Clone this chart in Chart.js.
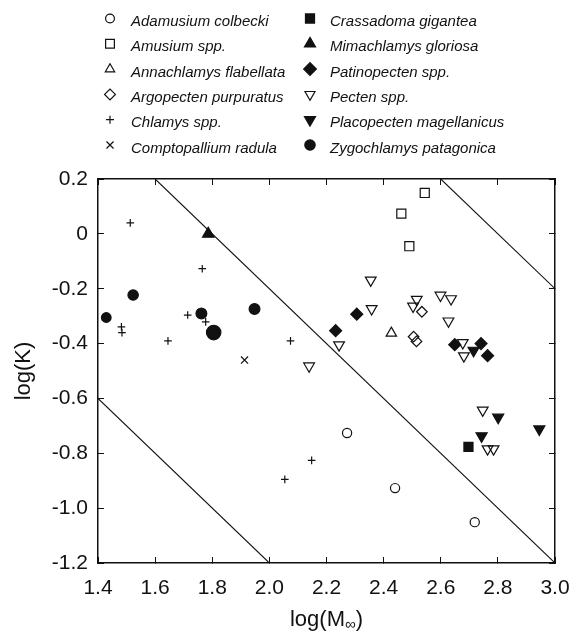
<!DOCTYPE html>
<html><head><meta charset="utf-8">
<script src="https://cdn.jsdelivr.net/npm/chart.js@4/dist/chart.umd.min.js"></script>
<style>html,body{margin:0;padding:0;background:#fff;}canvas{display:block;}</style>
</head><body>
<canvas id="c" width="575" height="636"></canvas>
<script>
// ---- data ----
const species = [
  'Adamusium colbecki', 'Amusium spp.', 'Annachlamys flabellata', 'Argopecten purpuratus',
  'Chlamys spp.', 'Comptopallium radula', 'Crassadoma gigantea', 'Mimachlamys gloriosa',
  'Patinopecten spp.', 'Pecten spp.', 'Placopecten magellanicus', 'Zygochlamys patagonica'
];
const adamusiumX = [2.272, 2.440, 2.719];
const adamusiumY = [-0.726, -0.927, -1.051];
const amusiumX = [2.462, 2.490, 2.544];
const amusiumY = [0.074, -0.045, 0.149];
const annachlamysX = [2.427];
const annachlamysY = [-0.362];
const argopectenX = [2.534, 2.505, 2.515];
const argopectenY = [-0.284, -0.375, -0.392];
const chlamysX = [1.513, 1.765, 1.482, 1.484, 1.645, 1.714, 1.777, 2.074, 2.148, 2.054];
const chlamysY = [0.040, -0.127, -0.339, -0.360, -0.390, -0.296, -0.321, -0.390, -0.826, -0.895];
const comptopalliumX = [1.913];
const comptopalliumY = [-0.460];
const crassadomaX = [2.697];
const crassadomaY = [-0.777];
const mimachlamysX = [1.786];
const mimachlamysY = [0.000];
const patinopectenX = [2.232, 2.306, 2.649, 2.741, 2.764];
const patinopectenY = [-0.353, -0.293, -0.404, -0.400, -0.444];
const pectenX = [2.139, 2.244, 2.355, 2.358, 2.516, 2.503, 2.599, 2.636, 2.627, 2.677, 2.681, 2.747, 2.764, 2.785];
const pectenY = [-0.482, -0.405, -0.169, -0.273, -0.239, -0.264, -0.224, -0.237, -0.318, -0.397, -0.445, -0.643, -0.784, -0.784];
const placopectenX = [2.715, 2.743, 2.801, 2.945];
const placopectenY = [-0.425, -0.737, -0.669, -0.712];
const zygochlamysX = [1.429, 1.523, 1.762, 1.805, 1.948];
const zygochlamysY = [-0.305, -0.223, -0.290, -0.360, -0.274];

const refLineX = [[1.4, 2.0], [1.6, 3.0], [2.6, 3.0]];
const refLineY = [[-0.6, -1.2], [0.2, -1.2], [0.2, -0.2]];

const xTickValues = [1.4, 1.6, 1.8, 2.0, 2.2, 2.4, 2.6, 2.8, 3.0];
const xTickLabels = ['1.4', '1.6', '1.8', '2.0', '2.2', '2.4', '2.6', '2.8', '3.0'];
const yTickValues = [-1.2, -1.0, -0.8, -0.6, -0.4, -0.2, 0, 0.2];
const yTickLabels = ['-1.2', '-1.0', '-0.8', '-0.6', '-0.4', '-0.2', '0', '0.2'];

const seriesX = [adamusiumX, amusiumX, annachlamysX, argopectenX, chlamysX, comptopalliumX,
  crassadomaX, mimachlamysX, patinopectenX, pectenX, placopectenX, zygochlamysX];
const seriesY = [adamusiumY, amusiumY, annachlamysY, argopectenY, chlamysY, comptopalliumY,
  crassadomaY, mimachlamysY, patinopectenY, pectenY, placopectenY, zygochlamysY];

// ---- styles ----
const INK = '#111';
const FONT = "'Liberation Sans', Arial, Helvetica, sans-serif";
const markerStyles = [
  {style: 'circle',   rot: 0,   filled: false, r: 4.6, lr: 4.4},
  {style: 'rect',     rot: 0,   filled: false, r: 6.4, lr: 6.2},
  {style: 'triangle', rot: 0,   filled: false, r: 6.0, lr: 5.4},
  {style: 'rectRot',  rot: 0,   filled: false, r: 5.3, lr: 5.4},
  {style: 'cross',    rot: 0,   filled: false, r: 3.8, lr: 4.0},
  {style: 'crossRot', rot: 0,   filled: false, r: 5.0, lr: 5.0},
  {style: 'rect',     rot: 0,   filled: true,  r: 6.4, lr: 6.4},
  {style: 'triangle', rot: 0,   filled: true,  r: 6.6, lr: 6.4},
  {style: 'rectRot',  rot: 0,   filled: true,  r: 6.0, lr: 6.4},
  {style: 'triangle', rot: 180, filled: false, r: 6.2, lr: 5.8},
  {style: 'triangle', rot: 180, filled: true,  r: 6.4, lr: 6.4},
  {style: 'circle',   rot: 0,   filled: true,  r: [4.8, 5.2, 5.4, 7.2, 5.4], lr: 5.2}
];

const datasets = species.map((name, i) => {
  const st = markerStyles[i];
  return {
    label: name,
    data: seriesX[i].map((x, j) => ({x: x, y: seriesY[i][j]})),
    pointStyle: st.style,
    rotation: st.rot,
    pointRadius: st.r,
    pointHoverRadius: st.r,
    backgroundColor: st.filled ? INK : 'rgba(0,0,0,0)',
    borderColor: INK,
    borderWidth: 1.2,
    showLine: false,
    order: 0
  };
});
refLineX.forEach((xs, k) => {
  datasets.push({
    label: 'ref' + k,
    data: xs.map((x, j) => ({x: x, y: refLineY[k][j]})),
    showLine: true,
    pointRadius: 0,
    borderColor: INK,
    borderWidth: 1.1,
    fill: false,
    order: 5
  });
});

// legend drawn on canvas in two columns
const legendPlugin = {
  id: 'twoColLegend',
  afterDraw(chart) {
    const ctx = chart.ctx;
    ctx.save();
    species.forEach((name, i) => {
      const col = i < 6 ? 0 : 1;
      const row = i % 6;
      const mx = col ? 310 : 110;
      const tx = col ? 330 : 131;
      const ty = 22 + row * 25.3;
      const my = ty - 3.5;
      const st = markerStyles[i];
      ctx.fillStyle = st.filled ? INK : 'rgba(0,0,0,0)';
      ctx.strokeStyle = INK;
      ctx.lineWidth = 1.2;
      Chart.helpers.drawPoint(ctx, {pointStyle: st.style, rotation: st.rot, radius: st.lr, borderWidth: 1.2}, mx, my);
      ctx.fillStyle = INK;
      ctx.font = "italic 15px " + FONT;
      ctx.textAlign = 'left';
      ctx.textBaseline = 'middle';
      ctx.fillText(name, tx, ty);
    });
    // x axis title with subscript infinity
    const ca = chart.chartArea;
    const cx = (ca.left + ca.right) / 2;
    const base = 626;
    ctx.textBaseline = 'alphabetic';
    ctx.font = "22px " + FONT;
    const p1 = 'log(M', p3 = ')';
    const w1 = ctx.measureText(p1).width;
    const w3 = ctx.measureText(p3).width;
    ctx.font = "15px " + FONT;
    const w2 = ctx.measureText('\u221E').width;
    let x0 = cx - (w1 + w2 + w3) / 2;
    ctx.textAlign = 'left';
    ctx.font = "22px " + FONT;
    ctx.fillText(p1, x0, base);
    ctx.font = "15px " + FONT;
    ctx.fillText('\u221E', x0 + w1, base + 3);
    ctx.font = "22px " + FONT;
    ctx.fillText(p3, x0 + w1 + w2, base);
    ctx.restore();
  }
};

function axisCommon(min, max, vals, labels, show, pos) {
  return {
    type: 'linear',
    position: pos,
    min: min, max: max,
    afterBuildTicks: s => { s.ticks = vals.map(v => ({value: v})); },
    ticks: {
      display: show,
      callback: (v, i) => labels[i],
      font: {size: 21, family: FONT},
      color: INK,
      padding: pos === 'left' ? 16 : 19,
      maxRotation: 0, autoSkip: false
    },
    grid: {drawOnChartArea: false, drawTicks: true, tickLength: -6, color: INK, lineWidth: 1},
    border: {display: true, color: INK, width: 1.5}
  };
}
function fixSize(prop, val) {
  return s => {
    s[prop] = val;
    s.paddingLeft = 0; s.paddingRight = 0; s.paddingTop = 0; s.paddingBottom = 0;
  };
}

const xAxis = axisCommon(1.4, 3.0, xTickValues, xTickLabels, true, 'bottom');
xAxis.afterFit = fixSize('height', 73);
const x2Axis = axisCommon(1.4, 3.0, xTickValues, xTickLabels, false, 'top');
x2Axis.afterFit = fixSize('height', 179);
const yAxis = axisCommon(-1.2, 0.2, yTickValues, yTickLabels, true, 'left');
yAxis.afterFit = fixSize('width', 98);
yAxis.title = {display: true, text: 'log(K)', color: INK, font: {size: 22, family: FONT}, padding: {top: 11, bottom: 0}};
const y2Axis = axisCommon(-1.2, 0.2, yTickValues, yTickLabels, false, 'right');
y2Axis.afterFit = fixSize('width', 20);

new Chart(document.getElementById('c'), {
  type: 'scatter',
  data: {datasets: datasets},
  options: {
    responsive: false,
    animation: false,
    devicePixelRatio: 1,
    layout: {padding: 0},
    plugins: {legend: {display: false}, tooltip: {enabled: false}},
    scales: {x: xAxis, x2: x2Axis, y: yAxis, y2: y2Axis}
  },
  plugins: [legendPlugin]
});
</script>
</body></html>
